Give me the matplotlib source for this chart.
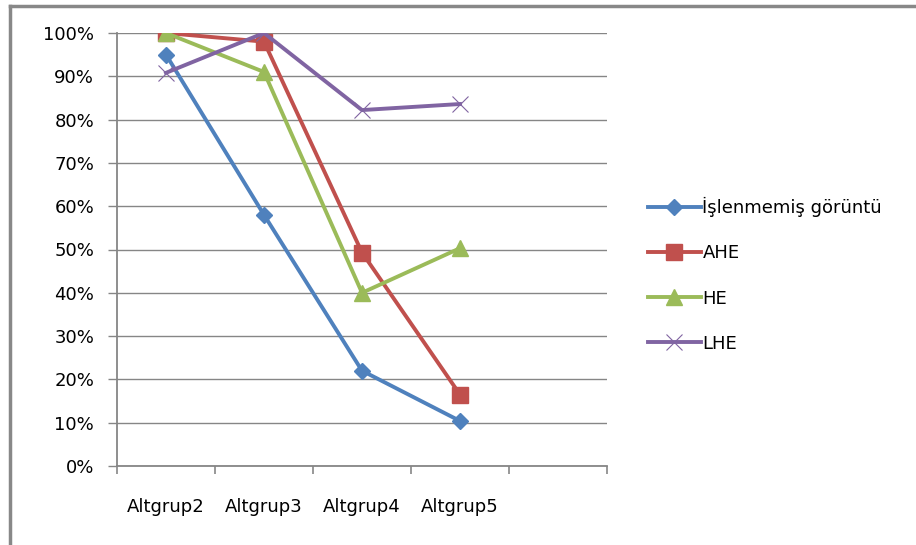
import numpy as np
import matplotlib.pyplot as plt
from matplotlib.lines import Line2D

plt.rcParams['font.family'] = ['DejaVu Sans']

categories = ['Altgrup2', 'Altgrup3', 'Altgrup4', 'Altgrup5']
islenmemis = [95, 58, 22, 10.4]
ahe = [100, 98, 49.3, 16.5]
he = [100, 91, 40, 50.3]
lhe = [90.8, 100, 82.2, 83.6]

W, H = 916, 545
fig = plt.figure(figsize=(W / 100, H / 100), dpi=100)
ax = fig.add_axes([117 / W, 1 - 466 / H, (607 - 117) / W, (466 - 33) / H])

x = np.arange(len(categories))
grid_c = '#868686'
fs = 13

ax.plot(x, islenmemis, color='#4F81BD', lw=2.8, marker='D', ms=8, label='İşlenmemiş görüntü')
ax.plot(x, ahe, color='#C0504D', lw=2.8, marker='s', ms=12, label='AHE')
ax.plot(x, he, color='#9BBB59', lw=2.8, marker='^', ms=12, label='HE')
ax.plot(x, lhe, color='#8064A2', lw=2.8, marker='x', ms=11, mew=0.8, label='LHE')

ax.set_xlim(-0.5, 4.5)
ax.set_ylim(0, 100)
ax.set_yticks(np.arange(0, 101, 10))
ax.set_yticklabels([f'{v}%' for v in range(0, 101, 10)], fontsize=fs)
ax.yaxis.grid(True, color=grid_c, lw=1)
ax.set_axisbelow(True)

ax.set_xticks(x)
ax.set_xticklabels(categories, fontsize=fs)
ax.set_xticks(np.arange(-0.5, 4.6, 1), minor=True)
ax.tick_params(axis='x', which='major', length=0, pad=23)
ax.tick_params(axis='x', which='minor', length=6, color=grid_c, width=1.2, direction='out')
ax.tick_params(axis='y', length=6.5, color=grid_c, width=1, pad=10)

for s in ['top', 'right']:
    ax.spines[s].set_visible(False)
for s in ['left', 'bottom']:
    ax.spines[s].set_color(grid_c)
    ax.spines[s].set_linewidth(1.3)

ax.legend(loc='center left', bbox_to_anchor=(632 / W, 1 - 275 / H), bbox_transform=fig.transFigure,
          frameon=False, fontsize=fs, handlelength=2.9, handletextpad=0.1, labelspacing=1.5)

# chart frame (cropped on right and bottom)
fig.add_artist(Line2D([10 / W, 10 / W], [0, 1 - 6 / H], color='#888888', lw=2.5))
fig.add_artist(Line2D([10 / W, 1], [1 - 6 / H, 1 - 6 / H], color='#888888', lw=2.5))

fig.savefig('out.png', dpi=100)
